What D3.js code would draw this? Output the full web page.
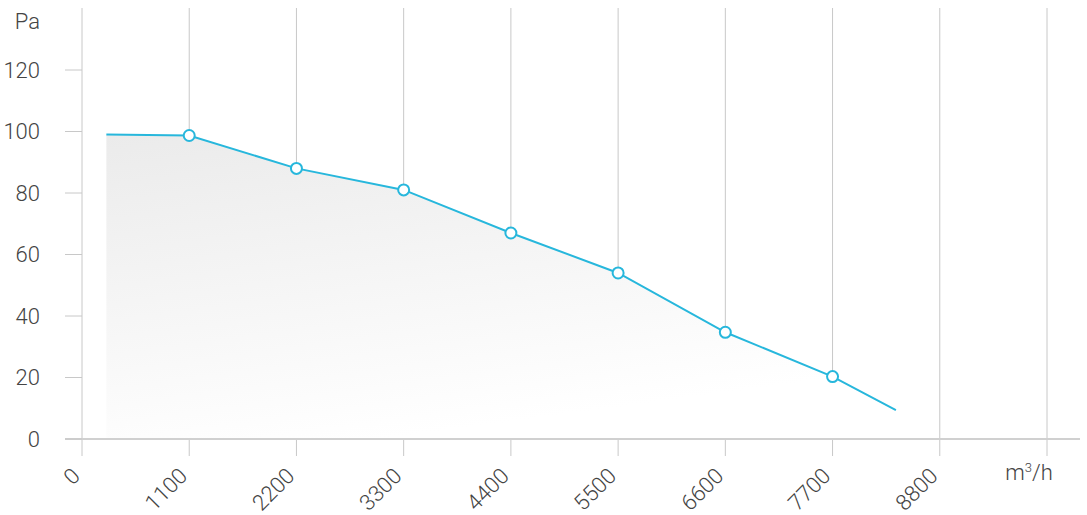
<!DOCTYPE html>
<html><head><meta charset="utf-8">
<script src="https://cdn.jsdelivr.net/npm/d3@7"></script>
<style>
body{margin:0;background:#fff;}
text{font-family:Roboto,"Open Sans",sans-serif;font-weight:300;fill:#444;}
</style></head>
<body><svg id="c" width="1087" height="515"></svg>
<script>
const xTicks = [0,1100,2200,3300,4400,5500,6600,7700,8800];
const yTicks = [0,20,40,60,80,100,120];
const flowLine = [250,1100,2200,3300,4400,5500,6600,7700,8350];
const pressureLine = [99,98.7,88,81,67,54,34.7,20.3,9.4];
const markerFlow = [1100,2200,3300,4400,5500,6600,7700];
const markerPressure = [98.7,88,81,67,54,34.7,20.3];

const svg = d3.select("#c");
const x = d3.scaleLinear().domain([0,9900]).range([82,1047]);
const y = d3.scaleLinear().domain([0,120]).range([439,70]);

const defs = svg.append("defs");
const g = defs.append("linearGradient").attr("id","ag").attr("x1","0").attr("y1","0").attr("x2","0.35").attr("y2","1");
g.append("stop").attr("offset","0").attr("stop-color","#ebebeb");
g.append("stop").attr("offset","1").attr("stop-color","#ffffff");

// vertical grid lines
const vlines = xTicks.concat([9900]);
svg.selectAll(".vg").data(vlines).enter().append("line")
  .attr("x1",d=>x(d)).attr("x2",d=>x(d)).attr("y1",8).attr("y2",456)
  .attr("stroke","#c8c8c8").attr("stroke-width",1);

// area
const pts = flowLine.map((f,i)=>[f,pressureLine[i]]);
svg.append("path").datum(pts)
  .attr("d",d3.area().x(d=>x(d[0])).y0(y(0)).y1(d=>y(d[1])))
  .attr("fill","url(#ag)");

// baseline
svg.append("line").attr("x1",65).attr("x2",1080).attr("y1",y(0)).attr("y2",y(0))
  .attr("stroke","#d0d0d0").attr("stroke-width",2);

// y ticks
svg.selectAll(".yt").data(yTicks).enter().append("line")
  .attr("x1",65).attr("x2",82).attr("y1",d=>y(d)).attr("y2",d=>y(d))
  .attr("stroke","#c8c8c8").attr("stroke-width",1);
svg.selectAll(".yl").data(yTicks).enter().append("text")
  .attr("x",40).attr("y",d=>y(d)).attr("dy","0.35em").attr("text-anchor","end")
  .attr("font-size",22).text(d=>d);
svg.append("text").attr("x",40).attr("y",21).attr("dy","0.35em").attr("text-anchor","end")
  .attr("font-size",22).text("Pa");

// x labels
svg.selectAll(".xl").data(xTicks).enter().append("text")
  .attr("transform",d=>`translate(${x(d)-6},${472}) rotate(-45)`)
  .attr("text-anchor","end").attr("dy","0.35em")
  .attr("font-size",22).text(d=>d);
svg.append("text").attr("x",1029).attr("y",480).attr("text-anchor","middle")
  .attr("font-size",22).html('m<tspan dy="-8" font-size="13">3</tspan><tspan dy="8">/h</tspan>');

// line
svg.append("path").datum(pts)
  .attr("d",d3.line().x(d=>x(d[0])).y(d=>y(d[1])))
  .attr("fill","none").attr("stroke","#27b7dc").attr("stroke-width",2);

svg.selectAll(".mk").data(markerFlow).enter().append("circle")
  .attr("cx",d=>x(d)).attr("cy",(d,i)=>y(markerPressure[i])).attr("r",5.5)
  .attr("fill","#fff").attr("stroke","#27b7dc").attr("stroke-width",2);
</script></body></html>
